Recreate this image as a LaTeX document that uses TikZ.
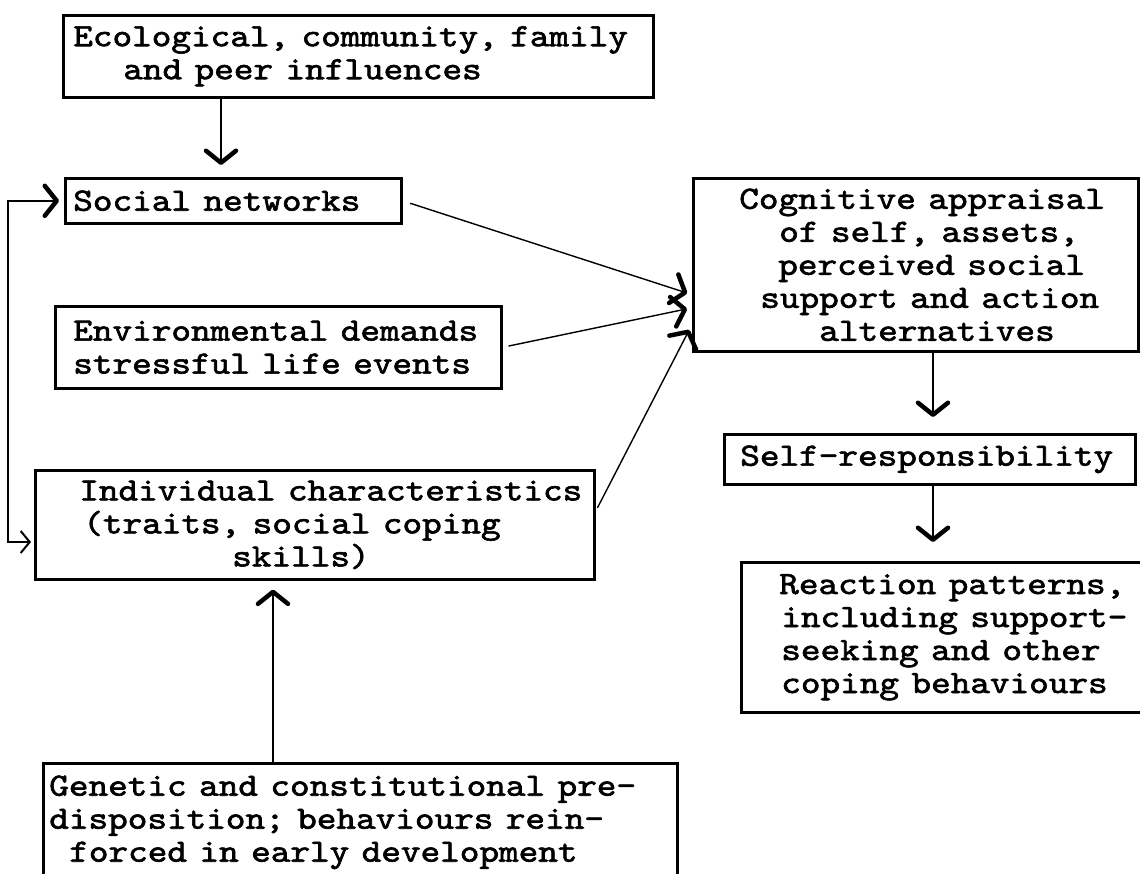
\documentclass[tikz,border=0pt]{standalone}
\usepackage{graphicx}
\usepackage{fontspec}
\setmonofont{lmmono10-regular.otf}[FakeBold=1.8]
\usetikzlibrary{arrows.meta,calc}
\newcommand{\boxfont}{\ttfamily\fontsize{32.5}{33}\selectfont}
\newcommand{\sx}[1]{\scalebox{1.15}[1]{#1}}
\tikzset{
  box/.style={draw, line width=2.6pt, inner xsep=0pt, inner ysep=0pt, align=left,
              anchor=north west, font=\boxfont},
  conn/.style={line width=1.8pt,
    -{Straight Barb[length=12pt,width=30pt,line width=4.5pt,round]}},
}
\begin{document}
\begin{tikzpicture}[x=1pt,y=-1pt]
\clip (0,0) rectangle (1140,874);
\fill[white] (0,0) rectangle (1140,874);

% boxes
\node[box, text width=590pt, minimum height=82pt] (eco) at (62,14)
  {\hspace*{10pt}\sx{Ecological, community, family}\\\hspace*{60pt}\sx{and peer influences}};
\node[box, text width=336pt, minimum height=45pt] (soc) at (64,177)
  {\hspace*{8pt}\sx{Social networks}};
\node[box, text width=446pt, minimum height=82pt] (env) at (54,305)
  {\hspace*{18pt}\sx{Environmental demands}\\\hspace*{18pt}\sx{stressful life events}};
\node[box, text width=559pt, minimum height=109pt] (indiv) at (34,469)
  {\hspace*{44pt}\sx{Individual characteristics}\\\hspace*{48pt}\sx{(traits, social coping}\\\hspace*{197pt}\sx{skills)}};
\node[box, text width=634pt, minimum height=118pt] (gen) at (42,762)
  {\hspace*{6pt}\sx{Genetic and constitutional pre-}\\\hspace*{6pt}\sx{disposition; behaviours rein-}\\\hspace*{26pt}\sx{forced in early development}};
\node[box, text width=445pt, minimum height=173pt] (cog) at (692,177)
  {\hspace*{46pt}\sx{Cognitive appraisal}\\\hspace*{86pt}\sx{of self, assets,}\\\hspace*{85pt}\sx{perceived social}\\\hspace*{67pt}\sx{support and action}\\\hspace*{126pt}\sx{alternatives}};
\node[box, text width=411pt, minimum height=50pt] (self) at (723,433)
  {\hspace*{16pt}\sx{Self-responsibility}};
\node[box, text width=415pt, minimum height=150pt] (react) at (740,561)
  {\hspace*{38pt}\sx{Reaction patterns,}\\\hspace*{40pt}\sx{including support-}\\\hspace*{40pt}\sx{seeking and other}\\\hspace*{40pt}\sx{coping behaviours}};

% helper coordinates
\coordinate (xa) at (221,0);
\coordinate (xb) at (933,0);
\coordinate (xc) at (273,0);
\coordinate (xf) at (8,0);
\coordinate (yf) at (0,542);

% vertical arrows
\draw[conn, shorten >=12pt] (eco.south -| xa) -- (soc.north -| xa);
\draw[conn, shorten >=16pt] (cog.south -| xb) -- (self.north -| xb);
\draw[conn, shorten >=19pt] (self.south -| xb) -- (react.north -| xb);
\draw[conn, line width=2.4pt, shorten >=9pt] (gen.north -| xc) -- (indiv.south -| xc);

% converging arrows
\draw[conn, line width=1.4pt, shorten <=8pt, shorten >=5pt]
  (soc.east) -- ($(cog.north west)!0.67!(cog.south west)$);
\draw[conn, line width=1.4pt, shorten <=6pt, shorten >=5pt]
  (env.east) -- ($(cog.north west)!0.745!(cog.south west)$);
\draw[conn, line width=1.4pt, shorten <=4pt, shorten >=6pt]
  ($(indiv.north east)!0.38!(indiv.south east)$) -- ($(cog.north west)!0.84!(cog.south west)$);

% feedback loop
\draw[line width=1.5pt,
      {Straight Barb[length=9pt,width=22pt,line width=2pt]}-{Straight Barb[length=12pt,width=30pt,line width=4.5pt,round]},
      shorten <=3pt, shorten >=5pt]
  (indiv.west |- yf) -- (xf |- yf) -- (xf |- soc.west) -- (soc.west);
\end{tikzpicture}
\end{document}
